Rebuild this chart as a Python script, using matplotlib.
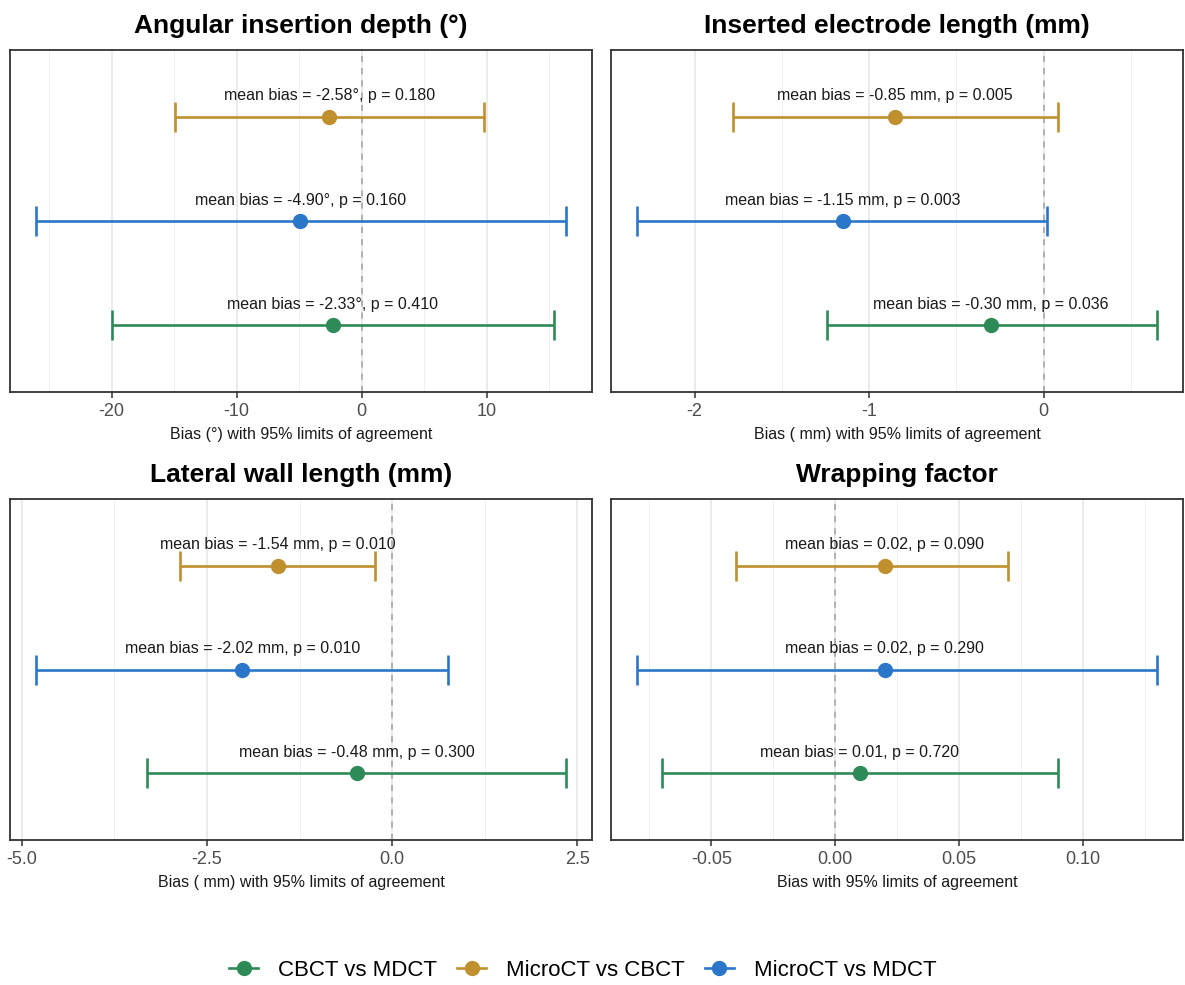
import matplotlib
matplotlib.use('Agg')
import matplotlib.pyplot as plt
from matplotlib.lines import Line2D
import numpy as np

plt.rcParams['font.family'] = ['Liberation Sans', 'DejaVu Sans']
plt.rcParams['axes.unicode_minus'] = False

# comparisons, bottom to top
comparisons = ['CBCT vs MDCT', 'MicroCT vs MDCT', 'MicroCT vs CBCT']
colors = {'CBCT vs MDCT': '#2E8B57', 'MicroCT vs CBCT': '#C0902E', 'MicroCT vs MDCT': '#2A76C8'}
legend_order = ['CBCT vs MDCT', 'MicroCT vs CBCT', 'MicroCT vs MDCT']

# Angular insertion depth (deg)
aid_mean = [-2.33, -4.90, -2.58]
aid_lower = [-20.0, -26.0, -14.95]
aid_upper = [15.35, 16.3, 9.8]
aid_p = [0.410, 0.160, 0.180]

# Inserted electrode length (mm)
iel_mean = [-0.30, -1.15, -0.85]
iel_lower = [-1.24, -2.33, -1.78]
iel_upper = [0.65, 0.02, 0.08]
iel_p = [0.036, 0.003, 0.005]

# Lateral wall length (mm)
lwl_mean = [-0.48, -2.02, -1.54]
lwl_lower = [-3.31, -4.80, -2.86]
lwl_upper = [2.34, 0.76, -0.23]
lwl_p = [0.300, 0.010, 0.010]

# Wrapping factor
wf_mean = [0.01, 0.02, 0.02]
wf_lower = [-0.07, -0.08, -0.04]
wf_upper = [0.09, 0.13, 0.07]
wf_p = [0.720, 0.290, 0.090]

panels = [
    dict(title='Angular insertion depth (\u00b0)', unit='\u00b0', xlabel='Bias (\u00b0) with 95% limits of agreement',
         mean=aid_mean, lower=aid_lower, upper=aid_upper, p=aid_p,
         major=[-20, -10, 0, 10], labels=['-20', '-10', '0', '10'], minor=[-25, -15, -5, 5, 15]),
    dict(title='Inserted electrode length (mm)', unit=' mm', xlabel='Bias ( mm) with 95% limits of agreement',
         mean=iel_mean, lower=iel_lower, upper=iel_upper, p=iel_p,
         major=[-2, -1, 0], labels=['-2', '-1', '0'], minor=[-1.5, -0.5, 0.5]),
    dict(title='Lateral wall length (mm)', unit=' mm', xlabel='Bias ( mm) with 95% limits of agreement',
         mean=lwl_mean, lower=lwl_lower, upper=lwl_upper, p=lwl_p,
         major=[-5.0, -2.5, 0.0, 2.5], labels=['-5.0', '-2.5', '0.0', '2.5'], minor=[-3.75, -1.25, 1.25]),
    dict(title='Wrapping factor', unit='', xlabel='Bias with 95% limits of agreement',
         mean=wf_mean, lower=wf_lower, upper=wf_upper, p=wf_p,
         major=[-0.05, 0.0, 0.05, 0.10], labels=['-0.05', '0.00', '0.05', '0.10'],
         minor=[-0.075, -0.025, 0.025, 0.075, 0.125]),
]

W, H = 1185, 985
fig = plt.figure(figsize=(W / 100, H / 100), dpi=100)

# panel boxes in pixels: left, right, top, bottom
boxes = [(10, 592, 50, 392), (611, 1183, 50, 392),
         (10, 592, 499, 840), (611, 1183, 499, 840)]

for pan, (l, r, t, b) in zip(panels, boxes):
    ax = fig.add_axes([l / W, 1 - b / H, (r - l) / W, (b - t) / H])
    ys = np.arange(1, len(comparisons) + 1)

    ax.set_xticks(pan['major'])
    ax.set_xticklabels(pan['labels'])
    ax.set_xticks(pan['minor'], minor=True)
    ax.grid(True, which='major', axis='x', color='#E6E6E6', linewidth=1.1, zorder=0)
    ax.grid(True, which='minor', axis='x', color='#F0F0F0', linewidth=0.7, zorder=0)
    ax.set_axisbelow(True)
    ax.axvline(0, color='#A0A0A0', linestyle=(0, (4, 4)), linewidth=1.1, zorder=1)

    for y, comp, m, lo, hi, p in zip(ys, comparisons, pan['mean'], pan['lower'], pan['upper'], pan['p']):
        c = colors[comp]
        ax.errorbar([m], [y], xerr=[[m - lo], [hi - m]], fmt='o', color=c, ecolor=c,
                    elinewidth=1.9, capsize=11, capthick=1.9, markersize=10, zorder=3)
        ax.text(m, y + 0.2, f'mean bias = {m:.2f}{pan["unit"]}, p = {p:.3f}',
                ha='center', va='center', fontsize=11.5, color='#1A1A1A', zorder=4)

    lo_all = min(pan['lower'])
    hi_all = max(pan['upper'])
    pad = (hi_all - lo_all) * 0.05
    ax.set_xlim(lo_all - pad, hi_all + pad)
    ax.set_ylim(0.36, 3.64)
    ax.set_yticks([])

    for s in ax.spines.values():
        s.set_color('#333333')
        s.set_linewidth(1.3)
    ax.tick_params(axis='x', which='major', length=4, width=1.1, color='#333333',
                   labelsize=13, labelcolor='#4D4D4D', pad=4)
    ax.tick_params(axis='x', which='minor', length=0)
    ax.set_xlabel(pan['xlabel'], fontsize=11.5, color='#1A1A1A', labelpad=5)
    ax.set_title(pan['title'], fontsize=19, fontweight='bold', pad=12)

handles = [Line2D([0], [0], color=colors[c], marker='o', markersize=10, linewidth=1.9, label=c)
           for c in legend_order]
fig.legend(handles=handles, loc='center', bbox_to_anchor=(583 / W, 1 - 970 / H), ncol=3,
           frameon=False, fontsize=16, handlelength=1.3, columnspacing=0.9, handletextpad=0.9)

fig.savefig('out.png', dpi=100)
